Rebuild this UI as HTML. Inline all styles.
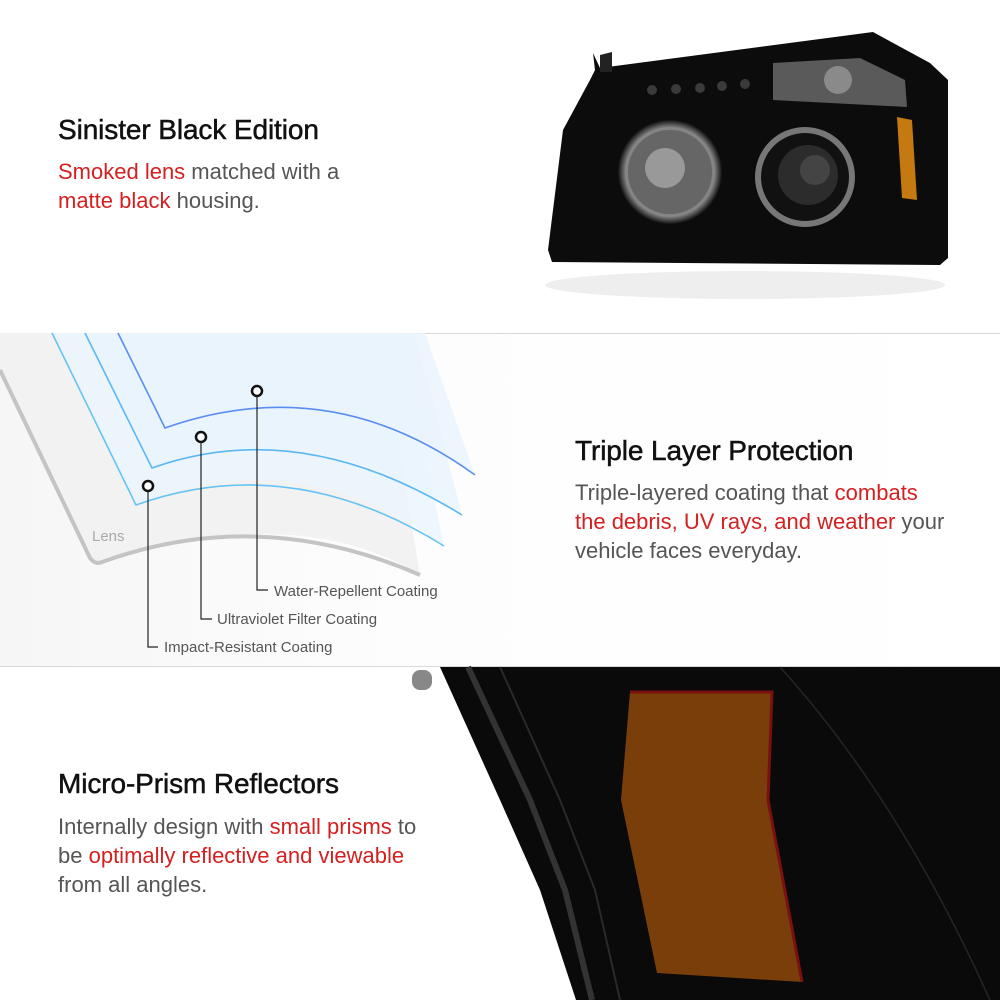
<!DOCTYPE html>
<html><head><meta charset="utf-8"><style>
html,body{margin:0;padding:0;background:#fff}
body{width:1000px;height:1000px;position:relative;overflow:hidden;font-family:"Liberation Sans",sans-serif}
.h{position:absolute;font-size:28px;color:#111;-webkit-text-stroke:0.5px #111;letter-spacing:-0.1px}
.p{position:absolute;font-size:22px;color:#555;line-height:29px}
.r{color:#d42020}
svg{position:absolute;left:0;top:0}
</style></head><body>
<svg width="1000" height="1000" viewBox="0 0 1000 1000">
<defs>
<linearGradient id="bg2" x1="0" y1="0" x2="1" y2="0"><stop offset="0" stop-color="#f6f6f6"/><stop offset="0.4" stop-color="#fdfdfd"/><stop offset="1" stop-color="#ffffff"/></linearGradient>
<radialGradient id="ring" cx="0.5" cy="0.5" r="0.5"><stop offset="0.6" stop-color="#555"/><stop offset="0.85" stop-color="#888"/><stop offset="1" stop-color="#111"/></radialGradient>
</defs>
<rect x="0" y="333" width="1000" height="334" fill="url(#bg2)"/>
<line x1="0" y1="333.5" x2="1000" y2="333.5" stroke="#d8d8d8"/>
<line x1="0" y1="666.5" x2="1000" y2="666.5" stroke="#d8d8d8"/>
<path d="M0 333 L380 333 L420 575 Q300 500 93 562 L0 370 Z" fill="#f2f2f2"/>
<path d="M0 370 L90 558 Q95 565 102 562 Q260 505 420 575" fill="none" stroke="#c4c4c4" stroke-width="4"/>
<path d="M52 333 L400 333 L444 546 Q300 440 136 505 Z" fill="#e9f5fd" opacity="0.8"/>
<path d="M85 333 L415 333 L462 515 Q300 405 152 468 Z" fill="#e8f4fd" opacity="0.8"/>
<path d="M118 333 L425 333 L475 475 Q330 360 165 428 Z" fill="#eaf4fd" opacity="0.8"/>
<path d="M52 333 L136 505 Q290 450 444 546" fill="none" stroke="#66c4f4" stroke-width="1.6"/>
<path d="M85 333 L152 468 Q300 415 462 515" fill="none" stroke="#5ab8f2" stroke-width="1.6"/>
<path d="M118 333 L165 428 Q330 370 475 475" fill="none" stroke="#5a8ef0" stroke-width="1.6"/>
<g fill="#fff" stroke="#111" stroke-width="2.5">
<circle cx="257" cy="391" r="5"/><circle cx="201" cy="437" r="5"/><circle cx="148" cy="486" r="5"/>
</g>
<g fill="none" stroke="#222" stroke-width="1.2">
<path d="M257 396 V590 H268"/><path d="M201 442 V619 H212"/><path d="M148 491 V647 H158"/>
</g>
<g font-family="Liberation Sans, sans-serif" font-size="15" fill="#555">
<text x="274" y="596">Water-Repellent Coating</text>
<text x="217" y="624">Ultraviolet Filter Coating</text>
<text x="164" y="652">Impact-Resistant Coating</text>
<text x="92" y="541" fill="#aaa">Lens</text>
</g>
<ellipse cx="745" cy="285" rx="200" ry="14" fill="#eee"/>
<path d="M593 53 L595 70 L590 80 L563 130 L548 250 L552 262 L940 265 L948 258 L948 80 L930 63 L873 32 L600 68 Z" fill="#0c0c0c"/>
<path d="M600 55 L612 52 L612 72 L600 72 Z" fill="#222"/>
<path d="M773 63 L860 58 L905 80 L907 107 L773 100 Z" fill="#5a5a5a"/>
<circle cx="838" cy="80" r="14" fill="#8a8a8a"/>
<path d="M897 117 L912 120 L917 200 L902 198 Z" fill="#c47a10"/>
<circle cx="670" cy="172" r="52" fill="url(#ring)"/>
<circle cx="670" cy="172" r="42" fill="#666"/>
<circle cx="665" cy="168" r="20" fill="#999"/>
<circle cx="805" cy="177" r="50" fill="#777"/>
<circle cx="805" cy="177" r="44" fill="#111"/>
<circle cx="808" cy="175" r="30" fill="#2c2c2c"/>
<circle cx="815" cy="170" r="15" fill="#444"/>
<g fill="#3a3a3a"><circle cx="652" cy="90" r="5"/><circle cx="676" cy="89" r="5"/><circle cx="700" cy="88" r="5"/><circle cx="722" cy="86" r="5"/><circle cx="745" cy="84" r="5"/></g>
<path d="M440 667 L1000 667 L1000 1000 L576 1000 L540 890 L500 800 Z" fill="#0a0a0a"/>
<path d="M468 667 L530 800 L565 890 L592 1000" fill="none" stroke="#333" stroke-width="6"/>
<path d="M500 667 L560 800 L595 890 L620 1000" fill="none" stroke="#2a2a2a" stroke-width="2"/>
<path d="M780 667 Q900 800 990 1000" fill="none" stroke="#252525" stroke-width="1.5"/>
<rect x="412" y="670" width="20" height="20" rx="8" fill="#888"/>
<path d="M630 692 L772 692 L768 800 L802 982 L657 973 L621 800 Z" fill="#7a3e0a"/>
<path d="M630 692 L772 692 L768 800 L802 982" fill="none" stroke="#7a1010" stroke-width="3"/>
</svg>
<div class="h" style="left:58px;top:114px">Sinister Black Edition</div>
<div class="p" style="left:58px;top:157px"><span class="r">Smoked lens</span> matched with a<br><span class="r">matte black</span> housing.</div>
<div class="h" style="left:575px;top:435px">Triple Layer Protection</div>
<div class="p" style="left:575px;top:478px">Triple-layered coating that <span class="r">combats</span><br><span class="r">the debris, UV rays, and weather</span> your<br>vehicle faces everyday.</div>
<div class="h" style="left:58px;top:768px">Micro-Prism Reflectors</div>
<div class="p" style="left:58px;top:812px">Internally design with <span class="r">small prisms</span> to<br>be <span class="r">optimally reflective and viewable</span><br>from all angles.</div>
</body></html>
